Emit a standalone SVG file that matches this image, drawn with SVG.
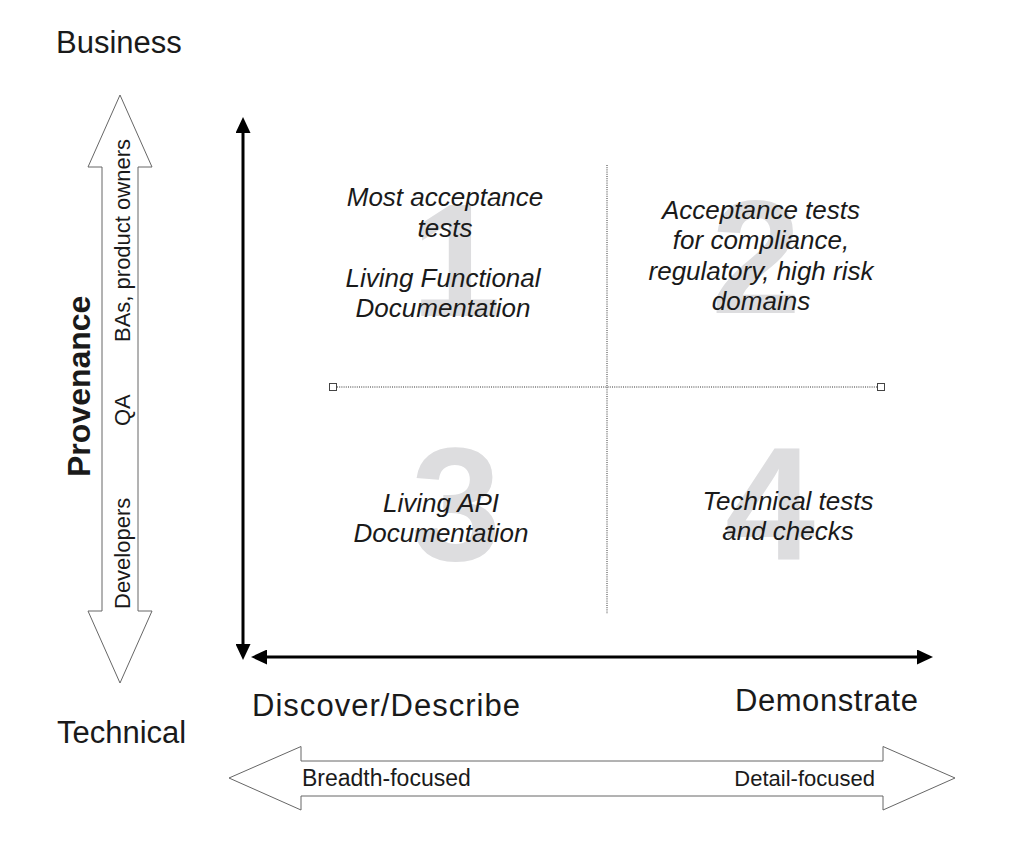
<svg xmlns="http://www.w3.org/2000/svg" width="1024" height="860" viewBox="0 0 1024 860">
  <style>
    .lbl { font-family: "Liberation Sans", Arial, sans-serif; fill: #1a1a1a; }
    .big { font-size: 31px; }
    .small { font-size: 22px; }
    .quad { font-family: "Liberation Sans", Arial, sans-serif; font-style: italic; font-size: 26px; fill: #1a1a1a; text-anchor: middle; }
    .num { font-family: "Liberation Sans", Arial, sans-serif; font-weight: bold; font-size: 162px; fill: #dddddf; text-anchor: middle; }
    .hollow { fill: #ffffff; stroke: #666666; stroke-width: 1; }
    .axis { stroke: #000000; stroke-width: 3; fill: none; marker-start: url(#head); marker-end: url(#head); }
    .dots { stroke: #333333; stroke-width: 1; stroke-dasharray: 1 1.2; fill: none; }
    .handle { fill: #ffffff; stroke: #444444; stroke-width: 1; }
  </style>
  <defs>
    <marker id="head" viewBox="0 0 16 15" refX="0" refY="7.5" markerWidth="16" markerHeight="15" markerUnits="userSpaceOnUse" orient="auto-start-reverse">
      <path d="M0,0 L16,7.5 L0,15 Z" fill="#000000"/>
    </marker>
  </defs>
  <rect width="1024" height="860" fill="#ffffff"/>

  <g id="quadrant-numbers">
    <text class="num" x="456" y="316">1</text>
    <text class="num" x="756" y="313">2</text>
    <text class="num" x="456" y="560">3</text>
    <text class="num" x="770" y="560">4</text>
  </g>

  <g id="connectors">
    <line class="axis" x1="243" y1="133" x2="243" y2="644"/>
    <line class="axis" x1="267" y1="657" x2="917" y2="657"/>
    <line class="dots" x1="607" y1="165" x2="607" y2="614"/>
    <line class="dots" x1="337" y1="387" x2="877" y2="387"/>
    <rect class="handle" x="329.5" y="383.5" width="7" height="7"/>
    <rect class="handle" x="877.5" y="383.5" width="7" height="7"/>
  </g>

  <g id="provenance-arrow">
    <polygon class="hollow" points="120,95 152,167 138,167 138,611 152,611 120,683 88,611 102,611 102,167 88,167"/>
    <text class="lbl small" transform="translate(130,342) rotate(-90)">BAs, product owners</text>
    <text class="lbl small" transform="translate(130,426) rotate(-90)">QA</text>
    <text class="lbl small" transform="translate(130,609) rotate(-90)">Developers</text>
    <text class="lbl" font-size="32" font-weight="bold" transform="translate(90,477) rotate(-90)">Provenance</text>
  </g>

  <g id="focus-arrow">
    <polygon class="hollow" points="229,778 301,746.5 301,761 883,761 883,746.5 955,778 883,810 883,796 301,796 301,810"/>
    <text class="lbl" font-size="23" x="302" y="786">Breadth-focused</text>
    <text class="lbl small" x="875" y="786" text-anchor="end">Detail-focused</text>
  </g>

  <g id="axis-labels">
    <text class="lbl big" x="56" y="53">Business</text>
    <text class="lbl big" x="57" y="743">Technical</text>
    <text class="lbl big" x="252" y="716" textLength="268" lengthAdjust="spacing">Discover/Describe</text>
    <text class="lbl big" x="735" y="711" textLength="183" lengthAdjust="spacing">Demonstrate</text>
  </g>

  <g id="q1">
    <text class="quad" x="445" y="206">Most acceptance</text>
    <text class="quad" x="445" y="237">tests</text>
    <text class="quad" x="443" y="287">Living Functional</text>
    <text class="quad" x="443" y="317">Documentation</text>
  </g>
  <g id="q2">
    <text class="quad" x="761" y="219">Acceptance tests</text>
    <text class="quad" x="761" y="249">for compliance,</text>
    <text class="quad" x="761" y="280">regulatory, high risk</text>
    <text class="quad" x="761" y="310">domains</text>
  </g>
  <g id="q3">
    <text class="quad" x="441" y="512">Living API</text>
    <text class="quad" x="441" y="542">Documentation</text>
  </g>
  <g id="q4">
    <text class="quad" x="788" y="510">Technical tests</text>
    <text class="quad" x="788" y="540">and checks</text>
  </g>
</svg>
